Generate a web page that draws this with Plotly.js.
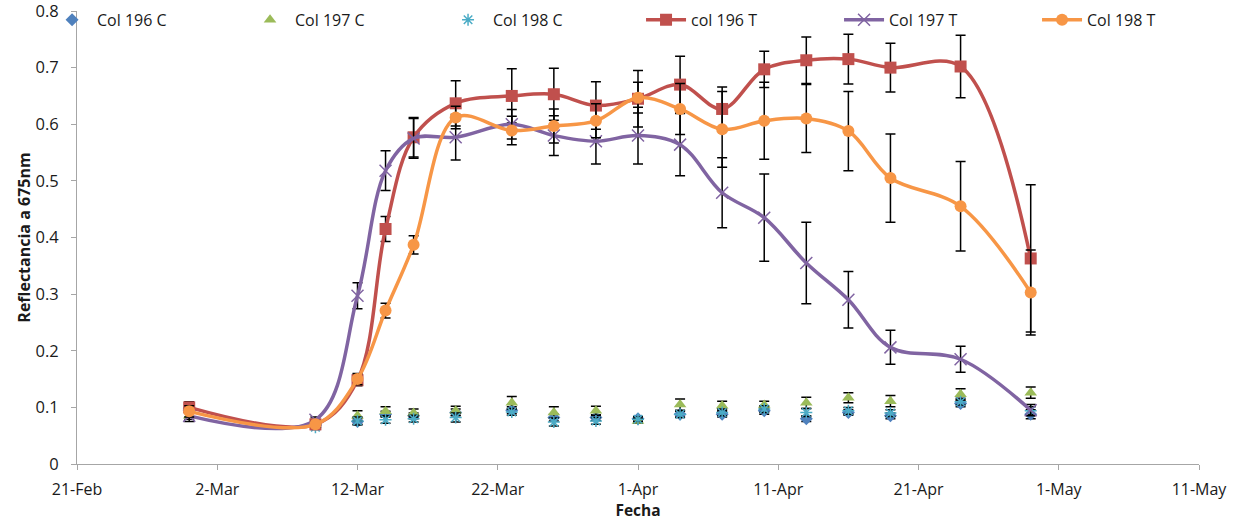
<!DOCTYPE html>
<html>
<head>
<meta charset="utf-8">
<script src="https://cdn.plot.ly/plotly-3.0.1.min.js"></script>
<style>html,body{margin:0;padding:0;background:#fff;}#chart{width:1241px;height:521px;}</style>
</head>
<body>
<div id="chart"></div>
<script>
// Sampling dates
const fechas = ["2012-02-29","2012-03-09","2012-03-12","2012-03-14","2012-03-16","2012-03-19","2012-03-23","2012-03-26","2012-03-29","2012-04-01","2012-04-04","2012-04-07","2012-04-10","2012-04-13","2012-04-16","2012-04-19","2012-04-24","2012-04-29"];

// Control series (markers only)
const col196C = [0.097,0.070,0.075,0.088,0.085,0.091,0.095,0.082,0.082,0.080,0.088,0.088,0.094,0.080,0.091,0.085,0.107,0.088];
const col196C_err = [0.006,0.004,0.005,0.005,0.005,0.006,0.006,0.006,0.005,0.004,0.005,0.005,0.006,0.005,0.005,0.005,0.006,0.008];
const col197C = [0.085,0.075,0.085,0.093,0.090,0.094,0.108,0.091,0.094,0.076,0.105,0.103,0.104,0.108,0.117,0.111,0.123,0.126];
const col197C_err = [0.006,0.004,0.009,0.008,0.007,0.008,0.011,0.010,0.008,0.004,0.010,0.008,0.007,0.010,0.009,0.010,0.010,0.010];
const col198C = [0.100,0.065,0.076,0.078,0.080,0.082,0.092,0.074,0.076,0.079,0.088,0.091,0.097,0.091,0.094,0.090,0.110,0.094];
const col198C_err = [0.006,0.004,0.007,0.006,0.006,0.008,0.006,0.007,0.006,0.004,0.006,0.006,0.006,0.007,0.006,0.006,0.006,0.007];

// Treatment series (smoothed lines + markers)
const col196T = [0.100,0.070,0.148,0.415,0.577,0.637,0.650,0.653,0.633,0.645,0.670,0.627,0.697,0.713,0.715,0.700,0.702,0.363];
const col196T_err = [0.010,0.005,0.010,0.022,0.035,0.040,0.048,0.046,0.042,0.050,0.050,0.039,0.032,0.041,0.044,0.043,0.055,0.130];
const col197T = [0.085,0.078,0.297,0.518,0.575,0.577,0.600,0.580,0.570,0.580,0.564,0.479,0.435,0.355,0.290,0.206,0.185,0.095];
const col197T_err = [0.010,0.005,0.023,0.035,0.035,0.040,0.026,0.035,0.040,0.050,0.055,0.062,0.077,0.072,0.050,0.030,0.023,0.010];
const col198T = [0.093,0.070,0.150,0.271,0.387,0.612,0.589,0.597,0.606,0.647,0.627,0.591,0.606,0.610,0.588,0.505,0.455,0.303];
const col198T_err = [0.010,0.005,0.010,0.013,0.016,0.020,0.025,0.030,0.030,0.027,0.045,0.067,0.068,0.060,0.070,0.078,0.079,0.075];

const xTicks = ["2012-02-21","2012-03-02","2012-03-12","2012-03-22","2012-04-01","2012-04-11","2012-04-21","2012-05-01","2012-05-11"];
const yTicks = [0,0.1,0.2,0.3,0.4,0.5,0.6,0.7,0.8];

function err(arr){return {type:'data',array:arr,visible:true,color:'#000',thickness:1.5,width:5};}

const traces = [
  {name:'Col 196 C', x:fechas, y:col196C, error_y:err(col196C_err), mode:'markers', type:'scatter',
   marker:{symbol:'diamond', size:10, color:'#4F81BD'}},
  {name:'Col 197 C', x:fechas, y:col197C, error_y:err(col197C_err), mode:'markers', type:'scatter',
   marker:{symbol:'triangle-up', size:11, color:'#9BBB59'}},
  {name:'Col 198 C', x:fechas, y:col198C, error_y:err(col198C_err), mode:'markers', type:'scatter',
   marker:{symbol:'asterisk-open', size:10, color:'#4BACC6', line:{color:'#4BACC6', width:1.5}}},
  {name:'col 196 T', x:fechas, y:col196T, error_y:err(col196T_err), mode:'lines+markers', type:'scatter',
   line:{color:'#C0504D', width:3.5, shape:'spline', smoothing:1}, marker:{symbol:'square', size:12, color:'#C0504D'}},
  {name:'Col 197 T', x:fechas, y:col197T, error_y:err(col197T_err), mode:'lines+markers', type:'scatter',
   line:{color:'#8064A2', width:3.5, shape:'spline', smoothing:1}, marker:{symbol:'x-thin-open', size:12, color:'#8064A2', line:{color:'#8064A2', width:1.5}}},
  {name:'Col 198 T', x:fechas, y:col198T, error_y:err(col198T_err), mode:'lines+markers', type:'scatter',
   line:{color:'#F79646', width:3.5, shape:'spline', smoothing:1}, marker:{symbol:'circle', size:12, color:'#F79646'}}
];

const layout = {
  width:1241, height:521,
  margin:{l:77, r:42, t:11, b:57, pad:0, autoexpand:false},
  paper_bgcolor:'#fff', plot_bgcolor:'#fff',
  font:{family:'"Open Sans", sans-serif', size:16, color:'#1a1a1a'},
  showlegend:true,
  legend:{orientation:'h', xref:'paper', yref:'paper', x:-0.0267, y:1.018, xanchor:'left', yanchor:'top',
          entrywidth:143, entrywidthmode:'pixels', itemwidth:40, bgcolor:'rgba(0,0,0,0)', font:{size:16}},
  xaxis:{type:'date', range:['2012-02-21','2012-05-11'], tickvals:xTicks, tickformat:'%-d-%b',
         showgrid:false, zeroline:false, showline:true, linecolor:'#A6A6A6', linewidth:1,
         ticks:'outside', ticklen:5, tickcolor:'#A6A6A6', tickfont:{size:16}, ticklabelstandoff:6,
         ticklabeloverflow:'allow',
         title:{text:'<b>Fecha</b>', font:{size:15.5}, standoff:2}, automargin:false},
  yaxis:{range:[0,0.8], tickvals:yTicks, ticktext:yTicks.map(String),
         showgrid:false, zeroline:false, showline:true, linecolor:'#A6A6A6', linewidth:1,
         ticks:'outside', ticklen:5, tickcolor:'#A6A6A6', tickfont:{size:16.5}, ticklabelstandoff:9,
         ticklabeloverflow:'allow',
         title:{text:'<b>Reflectancia a 675nm</b>', font:{size:16}, standoff:0}, automargin:false}
};

Plotly.newPlot('chart', traces, layout, {displayModeBar:false, staticPlot:true});
</script>
</body>
</html>
